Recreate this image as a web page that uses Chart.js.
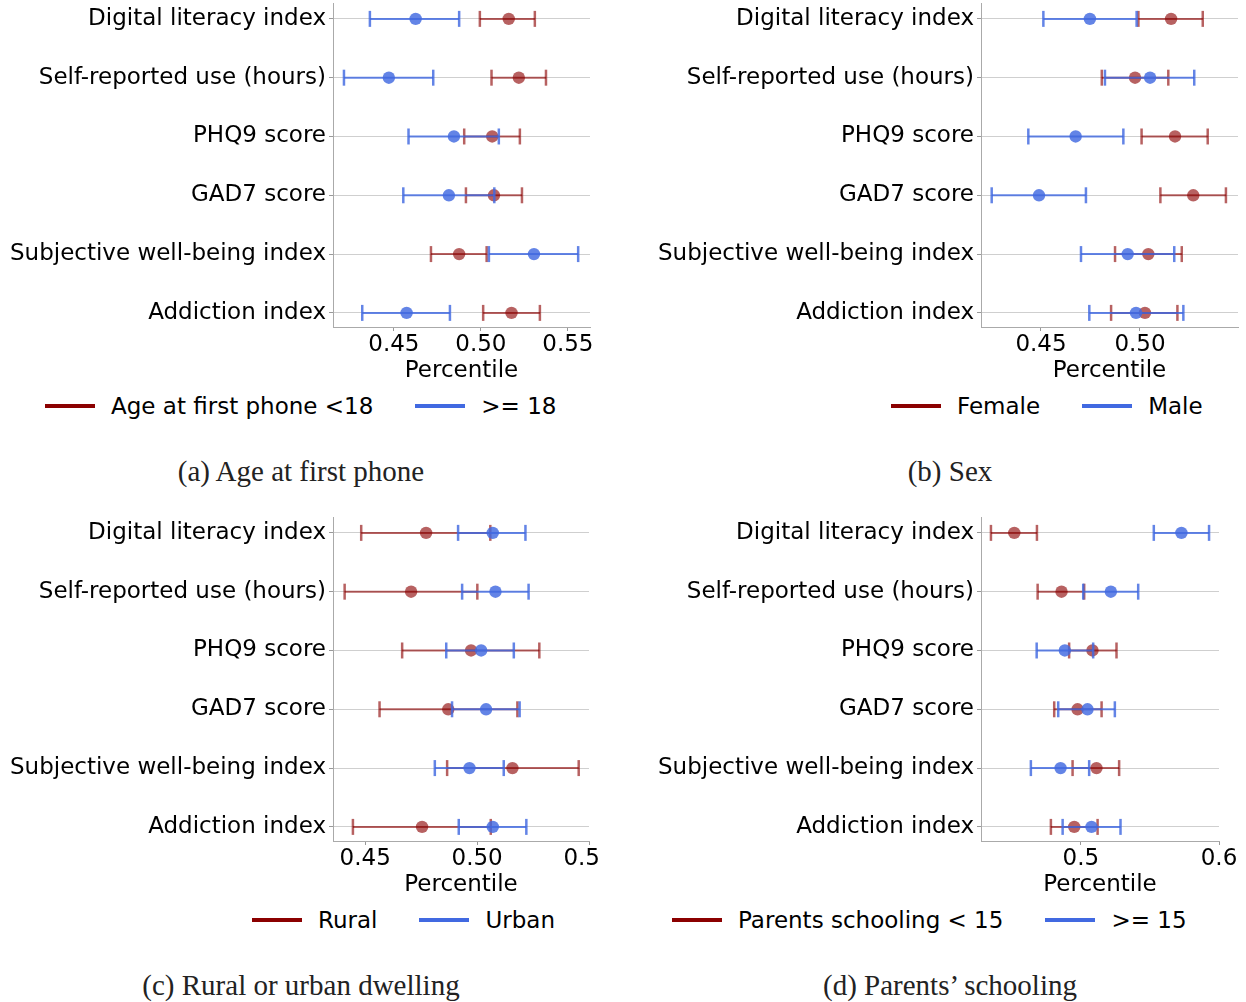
<!DOCTYPE html>
<html>
<head>
<meta charset="utf-8">
<script src="https://cdn.jsdelivr.net/npm/chart.js"></script>
<style>
body { margin: 0; background: #fff; width: 1246px; height: 1002px; position: relative; overflow: hidden; font-family: "DejaVu Sans"; }
.panel { position: absolute; overflow: hidden; height: 386px; }
.legend { position: absolute; display: flex; align-items: center; font-size: 23px; line-height: 24px; color: #000; white-space: nowrap; height: 24px; }
.legend .sw { width: 50px; height: 4px; margin-right: 16px; }
.legend .gap { width: 42px; }
.caption { position: absolute; width: 600px; text-align: center; font-family: "Liberation Serif"; font-size: 29px; line-height: 34px; color: #222; }
</style>
</head>
<body>

<div class="panel" style="left:0;top:0;width:600px"><canvas id="chartA" width="600" height="385"></canvas></div>
<div class="panel" style="left:640px;top:0;width:606px"><canvas id="chartB" width="606" height="385"></canvas></div>
<div class="panel" style="left:0;top:514px;width:600px"><canvas id="chartC" width="640" height="385"></canvas></div>
<div class="panel" style="left:640px;top:514px;width:606px"><canvas id="chartD" width="606" height="385"></canvas></div>

<div class="legend" style="left:45px;top:394px"><div class="sw" style="background:#8b0000"></div>Age at first phone &lt;18<div class="gap"></div><div class="sw" style="background:#4169e1"></div>&gt;= 18</div>
<div class="legend" style="left:891px;top:394px"><div class="sw" style="background:#8b0000"></div>Female<div class="gap"></div><div class="sw" style="background:#4169e1"></div>Male</div>
<div class="legend" style="left:252px;top:908px"><div class="sw" style="background:#8b0000"></div>Rural<div class="gap"></div><div class="sw" style="background:#4169e1"></div>Urban</div>
<div class="legend" style="left:672px;top:908px"><div class="sw" style="background:#8b0000"></div>Parents schooling &lt; 15<div class="gap"></div><div class="sw" style="background:#4169e1"></div>&gt;= 15</div>

<div class="caption" style="left:1px;top:454px">(a) Age at first phone</div>
<div class="caption" style="left:650px;top:454px">(b) Sex</div>
<div class="caption" style="left:1px;top:968px">(c) Rural or urban dwelling</div>
<div class="caption" style="left:650px;top:968px">(d) Parents’ schooling</div>

<script>
var categories = ["Digital literacy index", "Self-reported use (hours)", "PHQ9 score", "GAD7 score", "Subjective well-being index", "Addiction index"];

// (a) age at first phone
var ageYoungMean = [0.5160, 0.5218, 0.5065, 0.5075, 0.4875, 0.5176];
var ageYoungLow  = [0.4994, 0.5061, 0.4904, 0.4914, 0.4713, 0.5013];
var ageYoungHigh = [0.5310, 0.5374, 0.5224, 0.5236, 0.5033, 0.5339];
var ageOldMean = [0.4625, 0.4471, 0.4845, 0.4816, 0.5305, 0.4573];
var ageOldLow  = [0.4362, 0.4213, 0.4584, 0.4554, 0.5046, 0.4318];
var ageOldHigh = [0.4875, 0.4726, 0.5103, 0.5077, 0.5559, 0.4822];

// (b) sex
var femaleMean = [0.5157, 0.4975, 0.5177, 0.5269, 0.5042, 0.5025];
var femaleLow  = [0.4992, 0.4807, 0.5008, 0.5103, 0.4874, 0.4854];
var femaleHigh = [0.5317, 0.5143, 0.5342, 0.5434, 0.5211, 0.5189];
var maleMean = [0.4747, 0.5051, 0.4675, 0.4490, 0.4938, 0.4980];
var maleLow  = [0.4512, 0.4823, 0.4436, 0.4251, 0.4702, 0.4744];
var maleHigh = [0.4983, 0.5274, 0.4916, 0.4727, 0.5173, 0.5219];

// (c) rural / urban
var ruralMean = [0.4772, 0.4705, 0.4973, 0.4871, 0.5158, 0.4754];
var ruralLow  = [0.4482, 0.4408, 0.4665, 0.4564, 0.4866, 0.4445];
var ruralHigh = [0.5059, 0.5001, 0.5278, 0.5180, 0.5454, 0.5061];
var urbanMean = [0.5070, 0.5082, 0.5018, 0.5040, 0.4966, 0.5070];
var urbanLow  = [0.4915, 0.4933, 0.4862, 0.4888, 0.4811, 0.4918];
var urbanHigh = [0.5216, 0.5230, 0.5164, 0.5190, 0.5119, 0.5220];

// (d) parents' schooling
var schoolLowMean = [0.4518, 0.4860, 0.5084, 0.4976, 0.5113, 0.4952];
var schoolLowLow  = [0.4349, 0.4687, 0.4915, 0.4807, 0.4940, 0.4783];
var schoolLowHigh = [0.4682, 0.5024, 0.5258, 0.5150, 0.5277, 0.5121];
var schoolHighMean = [0.5728, 0.5217, 0.4884, 0.5048, 0.4853, 0.5077];
var schoolHighLow  = [0.5528, 0.5017, 0.4680, 0.4836, 0.4638, 0.4868];
var schoolHighHigh = [0.5928, 0.5415, 0.5089, 0.5246, 0.5060, 0.5287];

var ticksA = [0.45, 0.50, 0.55];
var ticksB = [0.45, 0.50];
var ticksC = [0.45, 0.50, 0.55];
var ticksD = [0.5, 0.6];

var red = "rgba(139,0,0,0.62)";
var blue = "rgba(65,105,225,0.82)";
var font = {family: "DejaVu Sans", size: 23};

function group(mean, low, high, color, order) {
  var sets = [];
  categories.forEach(function (c, i) {
    sets.push({
      type: "line",
      data: [{x: low[i], y: i}, {x: high[i], y: i}],
      borderColor: color,
      borderWidth: 2,
      pointStyle: "line",
      rotation: 90,
      pointRadius: 8,
      pointBorderWidth: 2.5,
      pointBorderColor: color,
      clip: false,
      order: order + 1
    });
  });
  sets.push({
    type: "scatter",
    data: mean.map(function (m, i) { return {x: m, y: i}; }),
    backgroundColor: color,
    borderWidth: 0,
    pointRadius: 6.2,
    clip: false,
    order: order
  });
  return sets;
}

function makeChart(id, sets, xMin, xMax, xTicks, digits, yWidth, padRight) {
  new Chart(document.getElementById(id), {
    type: "scatter",
    data: {datasets: sets},
    options: {
      responsive: false,
      animation: false,
      devicePixelRatio: 1,
      layout: {autoPadding: false, padding: {top: 3, right: padRight, bottom: 0, left: 0}},
      plugins: {legend: {display: false}, tooltip: {enabled: false}},
      scales: {
        x: {
          type: "linear", min: xMin, max: xMax,
          afterBuildTicks: function (s) { s.ticks = xTicks.map(function (v) { return {value: v}; }); },
          afterFit: function (s) { s.height = 58; s.paddingLeft = 0; s.paddingRight = 0; },
          ticks: {callback: function (v) { return v.toFixed(digits); }, font: font, color: "#000", padding: 0, maxRotation: 0, autoSkip: false},
          grid: {drawOnChartArea: false, tickLength: 4, tickColor: "#999"},
          border: {color: "#aaa"},
          title: {display: true, text: "Percentile", font: font, color: "#000", padding: 0}
        },
        y: {
          type: "linear", reverse: true, min: -0.27, max: 5.24,
          afterBuildTicks: function (s) { s.ticks = categories.map(function (c, i) { return {value: i}; }); },
          afterFit: function (s) { s.width = yWidth; s.paddingTop = 0; s.paddingBottom = 0; },
          ticks: {callback: function (v) { return categories[v]; }, font: font, color: "#000", padding: 3, autoSkip: false},
          grid: {color: "#cfcfcf", tickLength: 4, tickColor: "#999"},
          border: {color: "#aaa"}
        }
      }
    }
  });
}

makeChart("chartA", group(ageOldMean, ageOldLow, ageOldHigh, blue, 1).concat(group(ageYoungMean, ageYoungLow, ageYoungHigh, red, 3)), 0.415, 0.5627, ticksA, 2, 333, 10);
makeChart("chartB", group(maleMean, maleLow, maleHigh, blue, 1).concat(group(femaleMean, femaleLow, femaleHigh, red, 3)), 0.4197, 0.5495, ticksB, 2, 341, 8);
makeChart("chartC", group(urbanMean, urbanLow, urbanHigh, blue, 1).concat(group(ruralMean, ruralLow, ruralHigh, red, 3)), 0.4356, 0.55, ticksC, 2, 333, 51);
makeChart("chartD", group(schoolHighMean, schoolHighLow, schoolHighHigh, blue, 1).concat(group(schoolLowMean, schoolLowLow, schoolLowHigh, red, 3)), 0.4277, 0.6, ticksD, 1, 341, 27);
</script>
</body>
</html>
